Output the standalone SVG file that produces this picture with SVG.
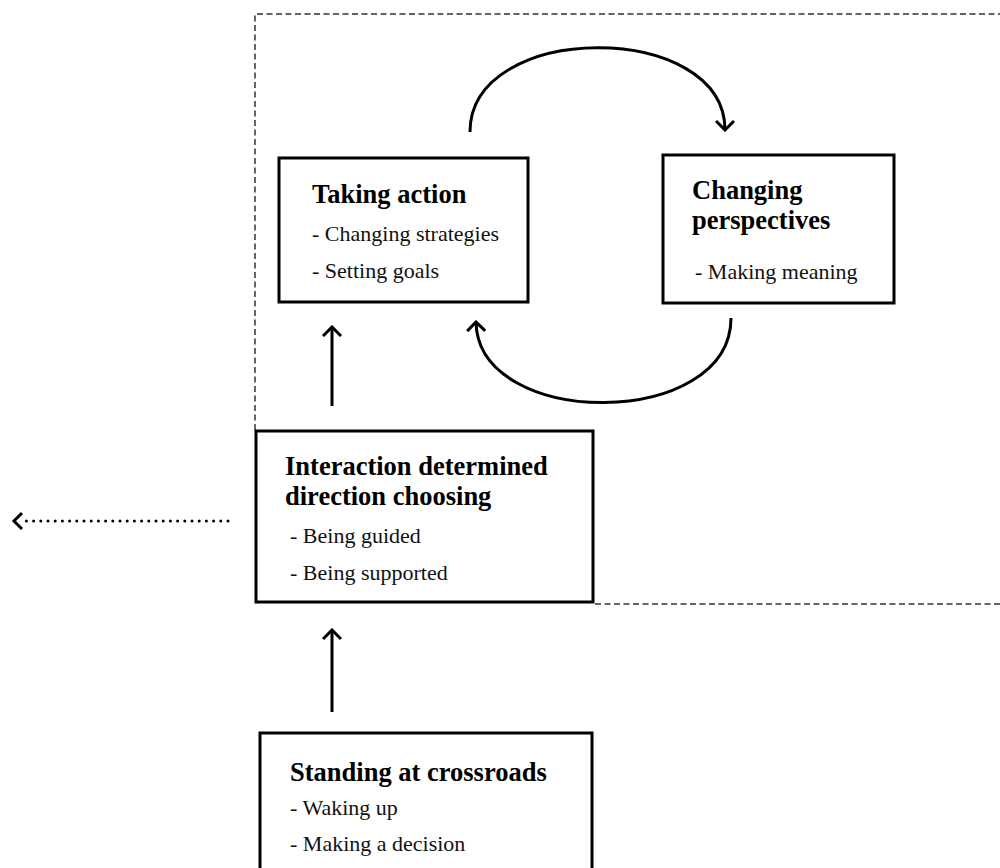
<svg xmlns="http://www.w3.org/2000/svg" width="1000" height="868" viewBox="0 0 1000 868">
<style>
.box{fill:#fff;stroke:#000;stroke-width:3}
.b{font-family:"Liberation Serif","Times New Roman",serif;font-weight:bold;font-size:26.5px;fill:#000}
.r{font-family:"Liberation Serif","Times New Roman",serif;font-size:22px;fill:#111}
.con{fill:none;stroke:#000;stroke-width:3}
.dash{fill:none;stroke:#333;stroke-width:1.5;stroke-dasharray:6 3.5}
</style>
<defs>
<marker id="ah" viewBox="0 0 12 20" refX="10" refY="10" markerWidth="12" markerHeight="20" markerUnits="userSpaceOnUse" orient="auto">
<path d="M1,1 L10,10 L1,19" fill="none" stroke="#000" stroke-width="3"/>
</marker>
</defs>
<g id="frame">
<path class="dash" d="M255,430 L255,14 L1000,14"/>
<path class="dash" d="M595,604 L1000,604"/>
</g>
<g id="connectors">
<path class="con" d="M470,132 C470,20 725,20 725,130" marker-end="url(#ah)"/>
<path class="con" d="M731,318 C731,430 478,430 476,322" marker-end="url(#ah)"/>
<path class="con" d="M332,406 L332,327" marker-end="url(#ah)"/>
<path class="con" d="M332,712 L332,630" marker-end="url(#ah)"/>
<path d="M228,521 L20,521" fill="none" stroke="#000" stroke-width="3" stroke-linecap="round" stroke-dasharray="0 7.2"/>
<path d="M22,513 L14,521 L22,529" fill="none" stroke="#000" stroke-width="3"/>
</g>
<g id="taking-action">
<rect class="box" x="279" y="158" width="249" height="144"/>
<text class="b" x="312" y="203">Taking action</text>
<text class="r" x="312" y="241">- Changing strategies</text>
<text class="r" x="312" y="278">- Setting goals</text>
</g>
<g id="changing-perspectives">
<rect class="box" x="663" y="155" width="231" height="148"/>
<text class="b" x="692" y="199">Changing</text>
<text class="b" x="692" y="229">perspectives</text>
<text class="r" x="695" y="279">- Making meaning</text>
</g>
<g id="interaction">
<rect class="box" x="256" y="431" width="337" height="171"/>
<text class="b" x="285" y="475">Interaction determined</text>
<text class="b" x="285" y="505">direction choosing</text>
<text class="r" x="290" y="543">- Being guided</text>
<text class="r" x="290" y="580">- Being supported</text>
</g>
<g id="standing">
<rect class="box" x="260" y="733" width="332" height="160"/>
<text class="b" x="290" y="781">Standing at crossroads</text>
<text class="r" x="290" y="815">- Waking up</text>
<text class="r" x="290" y="851">- Making a decision</text>
</g>
</svg>
